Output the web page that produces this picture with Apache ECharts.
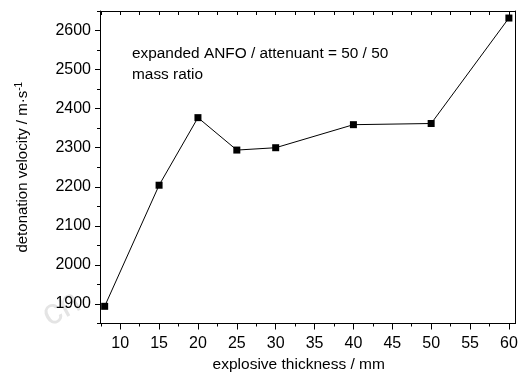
<!DOCTYPE html>
<html><head><meta charset="utf-8">
<script src="https://cdn.jsdelivr.net/npm/echarts@6/dist/echarts.min.js"></script>
<style>html,body{margin:0;padding:0;background:#fff}#c{width:522px;height:381px}</style>
</head><body><div id="c"></div>
<script>
const thickness = [8, 15, 20, 25, 30, 40, 50, 60];
const velocity = [1894, 2204, 2377, 2294, 2300, 2359, 2362, 2632];
const xMajor = [10, 15, 20, 25, 30, 35, 40, 45, 50, 55, 60];
const xMinor = [7.5, 12.5, 17.5, 22.5, 27.5, 32.5, 37.5, 42.5, 47.5, 52.5, 57.5];
const xTop = [7.5, 10, 12.5, 15, 17.5, 20, 22.5, 25, 27.5, 30, 32.5, 35, 37.5, 40, 42.5, 45, 47.5, 50, 52.5, 55, 57.5, 60];
const yMajor = [1900, 2000, 2100, 2200, 2300, 2400, 2500, 2600];
const yMinor = [1850, 1950, 2050, 2150, 2250, 2350, 2450, 2550, 2650];
const annotation = ['expanded ANFO / attenuant = 50 / 50', 'mass ratio'];

const FONT = "'Liberation Sans', Arial, sans-serif";
const FS = 16;
const XMIN = 7.4, XMAX = 60.85, YMIN = 1850, YMAX = 2650;
const lineStyle = {color: '#000', width: 1};

const chart = echarts.init(document.getElementById('c'), null, {renderer: 'canvas'});
chart.setOption({
  animation: false,
  grid: {left: 100, right: 6.5, top: 11, bottom: 57.5, containLabel: false},
  xAxis: [
    {type: 'value', position: 'bottom', min: XMIN, max: XMAX,
     name: 'explosive thickness / mm', nameLocation: 'middle', nameGap: 30,
     nameTextStyle: {fontFamily: FONT, fontSize: 15.5, color: '#000', padding: [0, 18, 0, 0]},
     axisLine: {show: true, lineStyle},
     axisTick: {show: true, inside: false, length: 6, lineStyle, customValues: xMajor},
     axisLabel: {show: true, fontFamily: FONT, fontSize: FS, color: '#000', margin: 12, customValues: xMajor,
                 formatter: v => String(v)},
     splitLine: {show: false}},
    {type: 'value', position: 'bottom', min: XMIN, max: XMAX,
     axisLine: {show: false},
     axisTick: {show: true, inside: false, length: 3, lineStyle, customValues: xMinor},
     axisLabel: {show: false}, splitLine: {show: false}},
    {type: 'value', position: 'top', min: XMIN, max: XMAX,
     axisLine: {show: true, lineStyle},
     axisTick: {show: true, inside: true, length: 4, lineStyle, customValues: xTop},
     axisLabel: {show: false}, splitLine: {show: false}}
  ],
  yAxis: [
    {type: 'value', position: 'left', min: YMIN, max: YMAX,
     name: '{a|detonation velocity / m·s}{b|-1}', nameLocation: 'middle', nameGap: 68,
     nameTextStyle: {fontFamily: FONT, fontSize: 15, color: '#000',
       rich: {a: {fontFamily: FONT, fontSize: 15, color: '#000'},
              b: {fontFamily: FONT, fontSize: 10, color: '#000', verticalAlign: 'top', padding: [0, 0, 8, 0]}}},
     axisLine: {show: true, lineStyle},
     axisTick: {show: true, inside: false, length: 5, lineStyle, customValues: yMajor},
     axisLabel: {show: true, fontFamily: FONT, fontSize: FS, color: '#000', margin: 9, customValues: yMajor,
                 formatter: v => String(v)},
     splitLine: {show: false}},
    {type: 'value', position: 'left', min: YMIN, max: YMAX,
     axisLine: {show: false},
     axisTick: {show: true, inside: false, length: 3, lineStyle, customValues: yMinor},
     axisLabel: {show: false}, splitLine: {show: false}},
    {type: 'value', position: 'right', min: YMIN, max: YMAX,
     axisLine: {show: true, lineStyle},
     axisTick: {show: false}, axisLabel: {show: false}, splitLine: {show: false}}
  ],
  graphic: [
    {type: 'text', left: 132, top: 43,
     style: {text: annotation.join('\n'), font: '15.4px ' + FONT, fill: '#000', lineHeight: 21}},
    {type: 'text', left: 36, top: 284, rotation: 0.5,
     style: {text: 'cn', font: '36px ' + FONT, fill: '#e4e4e4'}}
  ],
  series: [{
    type: 'line', xAxisIndex: 0, yAxisIndex: 0,
    data: thickness.map((t, i) => [t, velocity[i]]),
    symbol: 'rect', symbolSize: 7,
    itemStyle: {color: '#000'},
    lineStyle: {color: '#000', width: 1},
    z: 5
  }]
});
</script>
</body></html>
